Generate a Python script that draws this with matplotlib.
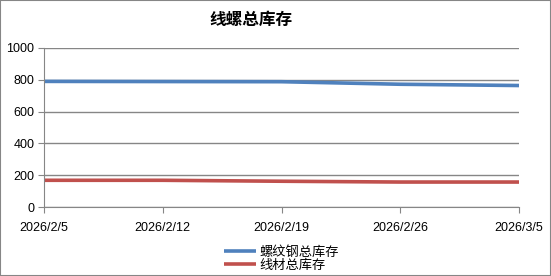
import matplotlib.pyplot as plt

plt.rcParams['font.family'] = ['Liberation Sans', 'Noto Sans CJK SC', 'DejaVu Sans']

dates = ["2026/2/5", "2026/2/12", "2026/2/19", "2026/2/26", "2026/3/5"]
rebar = [790, 789, 788, 772, 764]
wire = [168, 168, 162, 157, 157]

grid_c = "#868686"

fig = plt.figure(figsize=(5.51, 2.76), dpi=100)
ax = fig.add_axes([44 / 551, 1 - 207 / 276, 475 / 551, 159 / 276])

x = range(len(dates))
ax.plot(x, rebar, color="#4F81BD", lw=2.6, label="螺纹钢总库存", solid_capstyle="butt")
ax.plot(x, wire, color="#C0504D", lw=2.6, label="线材总库存", solid_capstyle="butt")

ax.set_xlim(0, len(dates) - 1)
ax.set_ylim(0, 1000)
ax.set_yticks(range(0, 1001, 200))
ax.set_xticks(list(x))
ax.set_xticklabels(dates)
ax.grid(axis="y", color=grid_c, lw=1)
ax.set_axisbelow(True)

for s in ["top", "right"]:
    ax.spines[s].set_visible(False)
for s in ["left", "bottom"]:
    ax.spines[s].set_color(grid_c)
ax.tick_params(axis="both", colors=grid_c, labelcolor="black", labelsize=9, length=4)
ax.tick_params(axis="x", pad=7)
ax.tick_params(axis="y", pad=3)

fig.text(251 / 551, 1 - 20 / 276, "线螺总库存", ha="center", va="center",
         fontsize=12, fontweight="bold", family=["Noto Sans CJK SC"])

ax.legend(loc="upper center", bbox_to_anchor=(0.5, -0.17), frameon=False,
          handlelength=2.4, handletextpad=0.3, labelspacing=0.0,
          prop={"family": ["Noto Sans CJK SC"], "size": 9.5})

fig.patches.append(plt.Rectangle((0, 0), 1, 1, transform=fig.transFigure,
                                 fill=False, edgecolor=grid_c, lw=1.5))

fig.savefig("out.png", dpi=100)
